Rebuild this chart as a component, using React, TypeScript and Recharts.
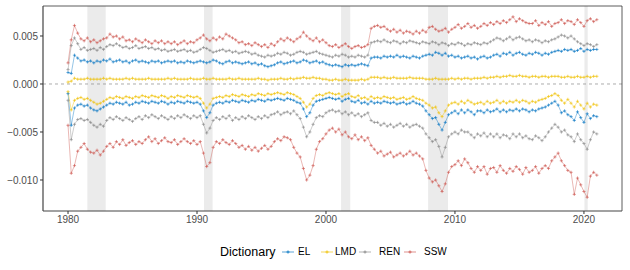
import React from 'react';
import { LineChart, Line, XAxis, YAxis, ReferenceLine, ReferenceArea } from 'recharts';

// Quarterly observations starting 1980 Q1; values in units of 1e-4
const START_YEAR = 1980;
const STEPS_PER_YEAR = 4;
const UNIT = 1e-4;

const EL_POS = [
  12, 11, 30, 27, 24, 25, 23, 24, 22, 24, 23, 25, 24, 26, 23, 24, 25, 23, 24, 22,
  24, 25, 23, 24, 23, 22, 24, 23, 24, 22, 23, 24, 23, 24, 22, 23, 22, 24, 23, 22,
  23, 24, 23, 22, 23, 25, 24, 22, 21, 23, 24, 22, 23, 22, 21, 22, 23, 21, 22, 20,
  21, 19, 18, 19, 20, 22, 23, 21, 22, 23, 24, 22, 23, 25, 24, 22, 23, 24, 22, 23,
  21, 20, 19, 20, 19, 18, 20, 19, 20, 19, 20, 21, 20, 19, 27, 28, 28, 27, 29, 28,
  29, 28, 30, 28, 29, 28, 27, 29, 28, 27, 29, 30, 31, 30, 33, 32, 30, 32, 29, 30,
  28, 29, 27, 28, 29, 27, 28, 26, 28, 29, 27, 28, 30, 31, 29, 32, 31, 33, 30, 32,
  33, 31, 30, 32, 31, 33, 32, 30, 32, 31, 33, 34, 35, 34, 36, 35, 36, 34, 35, 37,
  34, 36, 35, 36, 36,
];
const EL_NEG = [
  -10, -43, -25, -22, -21, -23, -22, -25, -27, -28, -26, -24, -22, -20, -21, -19, -20, -21, -19, -22,
  -21, -19, -20, -18, -19, -20, -18, -19, -20, -18, -19, -21, -19, -20, -18, -19, -20, -18, -19, -20,
  -19, -21, -28, -35, -30, -22, -20, -19, -20, -18, -19, -17, -18, -19, -17, -18, -19, -17, -18, -16,
  -17, -18, -16, -17, -16, -15, -16, -17, -15, -16, -17, -19, -20, -26, -34, -30, -22, -18, -17, -16,
  -15, -14, -15, -16, -15, -18, -16, -15, -18, -19, -17, -20, -19, -21, -18, -20, -19, -20, -18, -19,
  -20, -19, -21, -20, -19, -21, -20, -18, -20, -21, -23, -28, -32, -36, -35, -42, -48, -40, -32, -30,
  -28, -31, -27, -30, -27, -29, -32, -28, -28, -30, -27, -29, -28, -26, -29, -27, -29, -27, -28, -26,
  -28, -26, -27, -29, -27, -28, -26, -25, -24, -22, -20, -18, -22, -30, -28, -32, -34, -38, -29, -35,
  -40, -31, -36, -33, -34,
];
const LMD_POS = [
  2, 3, 6, 5, 5, 5, 6, 5, 5, 5, 5, 6, 5, 6, 5, 5, 5, 5, 6, 5,
  6, 5, 5, 5, 5, 6, 5, 5, 5, 5, 5, 6, 5, 6, 5, 5, 5, 5, 6, 5,
  5, 5, 6, 5, 5, 6, 5, 5, 5, 5, 6, 5, 5, 6, 5, 5, 5, 5, 5, 6,
  5, 5, 4, 5, 5, 5, 6, 5, 5, 6, 5, 6, 6, 7, 6, 6, 7, 6, 6, 5,
  5, 4, 4, 5, 4, 4, 5, 4, 4, 4, 4, 5, 4, 5, 7, 7, 7, 6, 7, 6,
  6, 7, 6, 6, 6, 6, 7, 6, 6, 6, 6, 5, 5, 5, 6, 5, 5, 5, 5, 6,
  5, 6, 5, 6, 6, 5, 6, 6, 6, 7, 6, 7, 7, 8, 7, 8, 8, 9, 8, 8,
  9, 8, 8, 7, 8, 8, 7, 8, 8, 7, 8, 8, 8, 7, 7, 8, 7, 7, 8, 7,
  7, 8, 7, 8, 8,
];
const LMD_NEG = [
  -8, -27, -17, -15, -14, -16, -15, -17, -19, -21, -20, -18, -16, -14, -15, -13, -14, -15, -13, -14,
  -15, -13, -14, -12, -13, -14, -12, -13, -14, -12, -13, -15, -13, -14, -12, -13, -14, -12, -13, -14,
  -13, -15, -20, -25, -21, -15, -14, -13, -14, -12, -13, -11, -12, -13, -11, -12, -13, -11, -12, -10,
  -11, -12, -10, -11, -10, -9, -10, -11, -9, -10, -11, -13, -15, -19, -24, -21, -15, -12, -11, -12,
  -10, -9, -10, -11, -10, -13, -11, -10, -13, -14, -12, -15, -14, -16, -13, -15, -14, -15, -13, -14,
  -15, -14, -16, -15, -14, -16, -15, -13, -15, -16, -17, -20, -22, -25, -24, -30, -34, -28, -22, -20,
  -19, -21, -18, -20, -17, -19, -21, -20, -19, -21, -18, -20, -19, -17, -20, -18, -20, -18, -19, -17,
  -19, -17, -18, -20, -18, -19, -17, -16, -15, -13, -12, -10, -12, -17, -20, -16, -20, -24, -18, -22,
  -26, -20, -24, -21, -22,
];
const REN_POS = [
  15, 40, 48, 42, 36, 38, 35, 36, 37, 35, 38, 36, 39, 41, 40, 42, 40, 38, 39, 37,
  38, 40, 37, 38, 39, 37, 38, 36, 37, 35, 36, 34, 35, 36, 34, 35, 36, 34, 35, 33,
  34, 36, 38, 37, 35, 33, 34, 35, 36, 34, 35, 33, 34, 32, 33, 34, 33, 31, 32, 30,
  29, 28, 30, 29, 30, 32, 31, 33, 32, 30, 31, 33, 34, 33, 31, 32, 33, 34, 32, 31,
  30, 29, 28, 30, 29, 31, 30, 28, 29, 28, 30, 29, 28, 30, 43, 44, 45, 44, 46, 44,
  43, 45, 44, 42, 44, 43, 45, 44, 43, 42, 44, 43, 42, 44, 43, 41, 43, 42, 40, 42,
  41, 43, 42, 40, 42, 41, 43, 42, 41, 43, 42, 44, 46, 48, 47, 45, 47, 49, 46, 48,
  49, 47, 45, 46, 44, 46, 45, 43, 45, 44, 46, 47, 49, 51, 50, 48, 50, 47, 44, 42,
  40, 42, 41, 39, 41,
];
const REN_NEG = [
  -17, -58, -42, -37, -36, -38, -37, -40, -43, -45, -42, -44, -38, -35, -37, -34, -36, -38, -35, -37,
  -39, -36, -34, -37, -33, -35, -32, -34, -36, -33, -35, -37, -34, -36, -33, -35, -32, -34, -36, -33,
  -35, -33, -42, -51, -46, -38, -35, -37, -34, -36, -33, -38, -35, -37, -34, -36, -33, -35, -37, -34,
  -36, -33, -35, -32, -31, -29, -32, -30, -29, -31, -28, -32, -36, -45, -55, -50, -42, -35, -33, -34,
  -30, -28, -27, -29, -28, -31, -29, -32, -30, -33, -31, -34, -32, -30, -38, -40, -40, -43, -41, -44,
  -42, -45, -43, -41, -44, -42, -45, -43, -42, -44, -46, -52, -56, -60, -58, -65, -76, -66, -55, -52,
  -50, -52, -48, -50, -50, -53, -56, -52, -54, -51, -55, -52, -55, -52, -56, -53, -54, -57, -52, -55,
  -52, -56, -54, -57, -58, -54, -56, -59, -55, -50, -46, -42, -45, -50, -48, -53, -55, -60, -52, -58,
  -62, -68, -58, -50, -52,
];
const SSW_POS = [
  22, 46, 61, 53, 47, 45, 48, 44, 46, 43, 45, 47, 48, 52, 49, 50, 47, 49, 45, 46,
  44, 47, 45, 43, 46, 44, 42, 45, 43, 45, 42, 44, 42, 44, 41, 43, 45, 42, 44, 43,
  46, 48, 51, 47, 45, 48, 46, 49, 47, 52, 50, 48, 46, 43, 44, 41, 42, 40, 43, 41,
  39, 41, 38, 42, 40, 44, 47, 45, 48, 46, 44, 47, 49, 54, 50, 47, 45, 48, 44, 46,
  43, 40, 39, 41, 38, 40, 42, 39, 37, 39, 40, 38, 39, 41, 58, 60, 61, 59, 60, 57,
  55, 57, 54, 56, 53, 55, 54, 52, 55, 53, 56, 54, 59, 60, 57, 55, 56, 58, 54, 57,
  59, 62, 58, 60, 63, 59, 61, 58, 60, 63, 61, 64, 62, 65, 63, 66, 64, 67, 70, 65,
  68, 66, 64, 63, 63, 66, 61, 64, 62, 65, 60, 63, 64, 67, 63, 66, 65, 62, 67, 64,
  60, 66, 68, 65, 67,
];
const SSW_NEG = [
  -43, -93, -85, -70, -66, -62, -68, -71, -72, -69, -74, -70, -65, -62, -66, -60, -63, -58, -64, -61,
  -59, -63, -60, -62, -58, -55, -60, -57, -62, -59, -56, -60, -61, -58, -63, -60, -57, -60, -62, -59,
  -63, -60, -72, -86, -82, -66, -60, -62, -58, -61, -63, -59, -62, -66, -64, -68, -65, -69, -66, -70,
  -67, -64, -68, -65, -60, -57, -59, -55, -56, -58, -66, -72, -76, -88, -100, -95, -85, -68, -60, -57,
  -52, -48, -46, -50, -47, -53, -50, -55, -57, -53, -58, -55, -59, -56, -64, -68, -72, -70, -75, -73,
  -71, -76, -74, -72, -75, -73, -70, -74, -72, -75, -78, -90, -98, -102, -100, -106, -112, -104, -92, -86,
  -84, -80, -85, -78, -82, -88, -92, -86, -90, -86, -94, -88, -87, -92, -85, -90, -93, -88, -91, -86,
  -89, -94, -87, -92, -90, -86, -93, -88, -85, -88, -80, -76, -72, -80, -85, -90, -92, -115, -98, -105,
  -112, -118, -96, -92, -95,
];

const RECESSIONS: [number, number][] = [
  [1981.5, 1982.92],
  [1990.54, 1991.21],
  [2001.17, 2001.88],
  [2007.92, 2009.46],
  [2020.04, 2020.29],
];

const Y_TICKS = [-0.01, -0.005, 0, 0.005];
const X_TICKS = [1980, 1990, 2000, 2010, 2020];

const DICTS = [
  { name: 'EL', color: '#0073C2', pos: EL_POS, neg: EL_NEG },
  { name: 'LMD', color: '#EFC000', pos: LMD_POS, neg: LMD_NEG },
  { name: 'REN', color: '#868686', pos: REN_POS, neg: REN_NEG },
  { name: 'SSW', color: '#CD534C', pos: SSW_POS, neg: SSW_NEG },
];

const data = EL_POS.map((_, i) => {
  const row: Record<string, number> = { t: START_YEAR + i / STEPS_PER_YEAR };
  DICTS.forEach((d) => {
    row[d.name + '_pos'] = d.pos[i] * UNIT;
    row[d.name + '_neg'] = d.neg[i] * UNIT;
  });
  return row;
});

const X_DOMAIN: [number, number] = [1978.06, 2022.95];
const Y_DOMAIN: [number, number] = [-0.01323, 0.008125];
const FONT = '"Liberation Sans", Arial, Helvetica, sans-serif';

const makeDot = (color: string) => (props: any) => {
  const { cx, cy, index } = props;
  if (cx == null || cy == null || isNaN(cx) || isNaN(cy)) return <g key={'d' + index} />;
  return (
    <path
      key={'d' + index}
      d={`M${cx - 1.6},${cy}h3.2M${cx},${cy - 1.6}v3.2`}
      stroke={color}
      strokeWidth={0.7}
      strokeOpacity={0.85}
      fill="none"
    />
  );
};

const fmtY = (v: number) => v.toFixed(3).replace('-', '\u2212');

const LegendKey = ({ color }: { color: string }) => (
  <svg width={12} height={10} style={{ display: 'block' }}>
    <line x1={0} y1={5} x2={12} y2={5} stroke={color} strokeWidth={0.8} strokeOpacity={0.8} />
    <path d="M4.4,5h3.2M6,3.4v3.2" stroke={color} strokeWidth={0.8} fill="none" />
  </svg>
);

const LEGEND_POS = [
  { key: 282, text: 298 },
  { key: 321, text: 335 },
  { key: 359, text: 379 },
  { key: 404, text: 424 },
];

export default function App() {
  return (
    <div style={{ position: 'absolute', left: 0, top: 0, width: 630, height: 270, background: '#fff', fontFamily: FONT }}>
      <LineChart width={630} height={270} data={data} margin={{ top: 6, right: 8, bottom: 0, left: 0 }}>
        {RECESSIONS.map(([a, b], i) => (
          <ReferenceArea key={'r' + i} x1={a} x2={b} y1={Y_DOMAIN[0]} y2={Y_DOMAIN[1]} fill="#ebebeb" fillOpacity={1} stroke="none" ifOverflow="hidden" />
        ))}
        <XAxis
          type="number"
          dataKey="t"
          domain={X_DOMAIN}
          ticks={X_TICKS}
          allowDataOverflow
          height={59}
          tickSize={3}
          tickMargin={2}
          axisLine={{ stroke: '#444', strokeWidth: 1.2 }}
          tickLine={{ stroke: '#333' }}
          tick={{ fontSize: 10, fill: '#4d4d4d', fontFamily: FONT }}
        />
        <YAxis
          type="number"
          domain={Y_DOMAIN}
          ticks={Y_TICKS}
          allowDataOverflow
          width={43}
          tickSize={3}
          tickMargin={2}
          tickFormatter={fmtY}
          axisLine={{ stroke: '#444', strokeWidth: 1.2 }}
          tickLine={{ stroke: '#333' }}
          tick={{ fontSize: 10, fill: '#4d4d4d', fontFamily: FONT }}
        />
        <ReferenceLine y={0} stroke="#888" strokeWidth={0.7} strokeDasharray="3 3" />
        <ReferenceLine y={Y_DOMAIN[1]} stroke="#333" strokeWidth={0.8} />
        <ReferenceLine x={X_DOMAIN[1]} stroke="#333" strokeWidth={0.8} />
        {DICTS.flatMap((d) =>
          ['_pos', '_neg'].map((suf) => (
            <Line
              key={d.name + suf}
              type="linear"
              dataKey={d.name + suf}
              stroke={d.color}
              strokeWidth={0.6}
              strokeOpacity={0.7}
              dot={makeDot(d.color)}
              activeDot={false}
              isAnimationActive={false}
            />
          ))
        )}
      </LineChart>
      <div style={{ position: 'absolute', left: 220, top: 244, fontSize: 12.5, color: '#000', lineHeight: '16px' }}>Dictionary</div>
      {DICTS.map((d, i) => (
        <React.Fragment key={d.name}>
          <div style={{ position: 'absolute', left: LEGEND_POS[i].key, top: 247 }}>
            <LegendKey color={d.color} />
          </div>
          <div style={{ position: 'absolute', left: LEGEND_POS[i].text, top: 245, fontSize: 10, color: '#000', lineHeight: '14px' }}>{d.name}</div>
        </React.Fragment>
      ))}
    </div>
  );
}
